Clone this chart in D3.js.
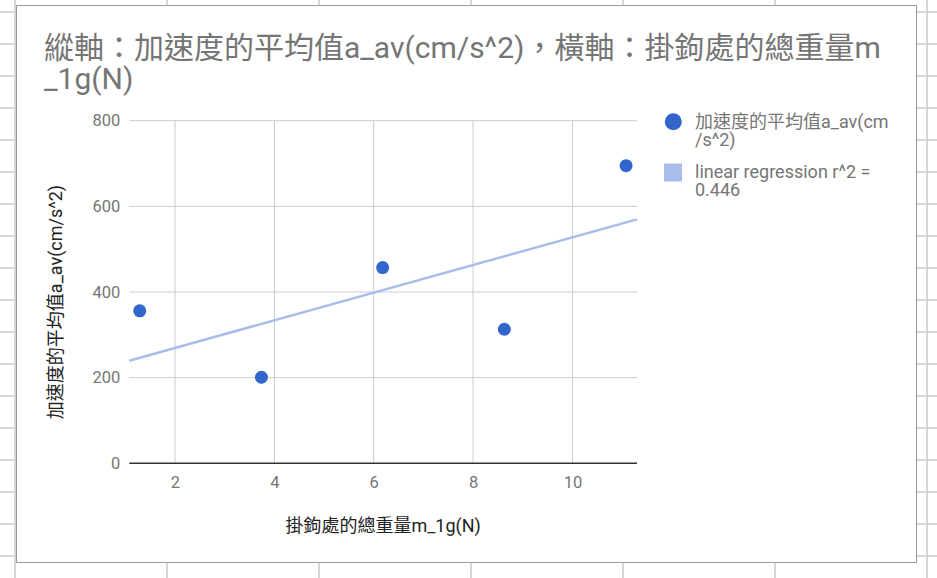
<!DOCTYPE html>
<html>
<head>
<meta charset="utf-8">
<script src="https://cdn.jsdelivr.net/npm/d3@7"></script>
<style>
  body { margin: 0; background: #fff; }
  svg { display: block; font-family: Roboto, "Noto Sans CJK TC", sans-serif; }
</style>
</head>
<body>
<div id="svg-container"></div>
<script>
////////////////////////////  Data  ////////////////////////////
const weights = [1.29, 3.74, 6.18, 8.63, 11.08];   // 掛鉤處的總重量 (N)
const accels = [356, 201, 457, 313, 695];          // 加速度的平均值 (cm/s^2)
const xTicks = [2, 4, 6, 8, 10];
const yTicks = [0, 200, 400, 600, 800];
const titleLines = ["縱軸：加速度的平均值a_av(cm/s^2)，橫軸：掛鉤處的總重量m", "_1g(N)"];
const xTitle = "掛鉤處的總重量m_1g(N)";
const yTitle = "加速度的平均值a_av(cm/s^2)";
const legendSeries = ["加速度的平均值a_av(cm", "/s^2)"];
const legendTrend = ["linear regression r^2 =", "0.446"];

////////////////////////////  Init  ////////////////////////////
const pointColor = "#3366cc";
const trendColor = "#a9bdea";
const width = 937, height = 578;
const plot = { left: 129.3, right: 637, top: 120.7, bottom: 463.3 };

const svg = d3.select("#svg-container").append("svg")
  .attr("width", width).attr("height", height);

// spreadsheet cells behind the chart
const bg = svg.append("g");
bg.selectAll("line.col").data(d3.range(7)).enter().append("line")
  .attr("x1", i => 15 + i * 152).attr("x2", i => 15 + i * 152)
  .attr("y1", 0).attr("y2", height)
  .attr("stroke", "#d6d6d6").attr("stroke-width", 2);
bg.selectAll("line.row").data(d3.range(18)).enter().append("line")
  .attr("x1", 0).attr("x2", width)
  .attr("y1", i => 12 + i * 32).attr("y2", i => 12 + i * 32)
  .attr("stroke", "#d6d6d6").attr("stroke-width", 2);

// chart box
svg.append("rect")
  .attr("x", 16.5).attr("y", 5.5).attr("width", 900).attr("height", 557)
  .attr("fill", "#fff").attr("stroke", "#9a9a9a").attr("stroke-width", 1);

// scales
const x = d3.scaleLinear().domain([1.08, 11.3]).range([plot.left, plot.right]);
const y = d3.scaleLinear().domain([0, 800]).range([plot.bottom, plot.top]);

// grid
svg.append("g").selectAll("line").data(xTicks).enter().append("line")
  .attr("x1", d => x(d)).attr("x2", d => x(d))
  .attr("y1", plot.top).attr("y2", plot.bottom)
  .attr("stroke", "#cccccc").attr("stroke-width", 1);
svg.append("g").selectAll("line").data(yTicks.filter(d => d > 0)).enter().append("line")
  .attr("x1", plot.left).attr("x2", plot.right)
  .attr("y1", d => y(d)).attr("y2", d => y(d))
  .attr("stroke", "#cccccc").attr("stroke-width", 1);
svg.append("line")
  .attr("x1", plot.left).attr("x2", plot.right)
  .attr("y1", y(0)).attr("y2", y(0))
  .attr("stroke", "#333").attr("stroke-width", 1.5);

// axes (labels only)
const xAxis = svg.append("g")
  .attr("transform", `translate(0,${plot.bottom + 7})`)
  .call(d3.axisBottom(x).tickValues(xTicks).tickSize(0).tickPadding(6));
const yAxis = svg.append("g")
  .attr("transform", `translate(${plot.left - 9},0)`)
  .call(d3.axisLeft(y).tickValues(yTicks).tickSize(0).tickPadding(0));
[xAxis, yAxis].forEach(a => {
  a.select(".domain").remove();
  a.selectAll("text")
    .style("font-family", 'Roboto, "Noto Sans CJK TC", sans-serif')
    .style("font-size", "16.5px").attr("fill", "#757575");
});

// trendline (least squares)
const mx = d3.mean(weights), my = d3.mean(accels);
const slope = d3.sum(weights, (w, i) => (w - mx) * (accels[i] - my)) /
  d3.sum(weights, w => (w - mx) * (w - mx));
const intercept = my - slope * mx;
svg.append("line")
  .attr("x1", x(x.domain()[0])).attr("y1", y(intercept + slope * x.domain()[0]))
  .attr("x2", x(x.domain()[1])).attr("y2", y(intercept + slope * x.domain()[1]))
  .attr("stroke", trendColor).attr("stroke-width", 2.5);

// points
svg.append("g").selectAll("circle").data(weights).enter().append("circle")
  .attr("cx", d => x(d)).attr("cy", (d, i) => y(accels[i]))
  .attr("r", 6.5).attr("fill", pointColor);

// title
svg.append("text")
  .attr("x", 44).attr("y", 58)
  .attr("fill", "#757575").style("font-size", "30px")
  .selectAll("tspan").data(titleLines).enter().append("tspan")
  .attr("x", 44).attr("dy", (d, i) => i ? 31 : 0).text(d => d);

// axis titles
svg.append("text")
  .attr("x", (plot.left + plot.right) / 2).attr("y", 532)
  .attr("text-anchor", "middle").attr("fill", "#222")
  .style("font-size", "18px").text(xTitle);
svg.append("text")
  .attr("transform", `translate(62,${(plot.top + plot.bottom) / 2 + 10}) rotate(-90)`)
  .attr("text-anchor", "middle").attr("fill", "#222")
  .style("font-size", "18px").text(yTitle);

// legend
const legend = svg.append("g").style("font-size", "18px").attr("fill", "#757575");
legend.append("circle").attr("cx", 673.3).attr("cy", 121.7).attr("r", 8.5).attr("fill", pointColor);
legend.append("text").attr("y", 128)
  .selectAll("tspan").data(legendSeries).enter().append("tspan")
  .attr("x", 695).attr("dy", (d, i) => i ? 18 : 0).text(d => d);
legend.append("rect").attr("x", 664).attr("y", 163.5).attr("width", 18).attr("height", 18)
  .attr("fill", trendColor);
legend.append("text").attr("y", 177.5)
  .selectAll("tspan").data(legendTrend).enter().append("tspan")
  .attr("x", 695).attr("dy", (d, i) => i ? 18.4 : 0).text(d => d);
</script>
</body>
</html>
